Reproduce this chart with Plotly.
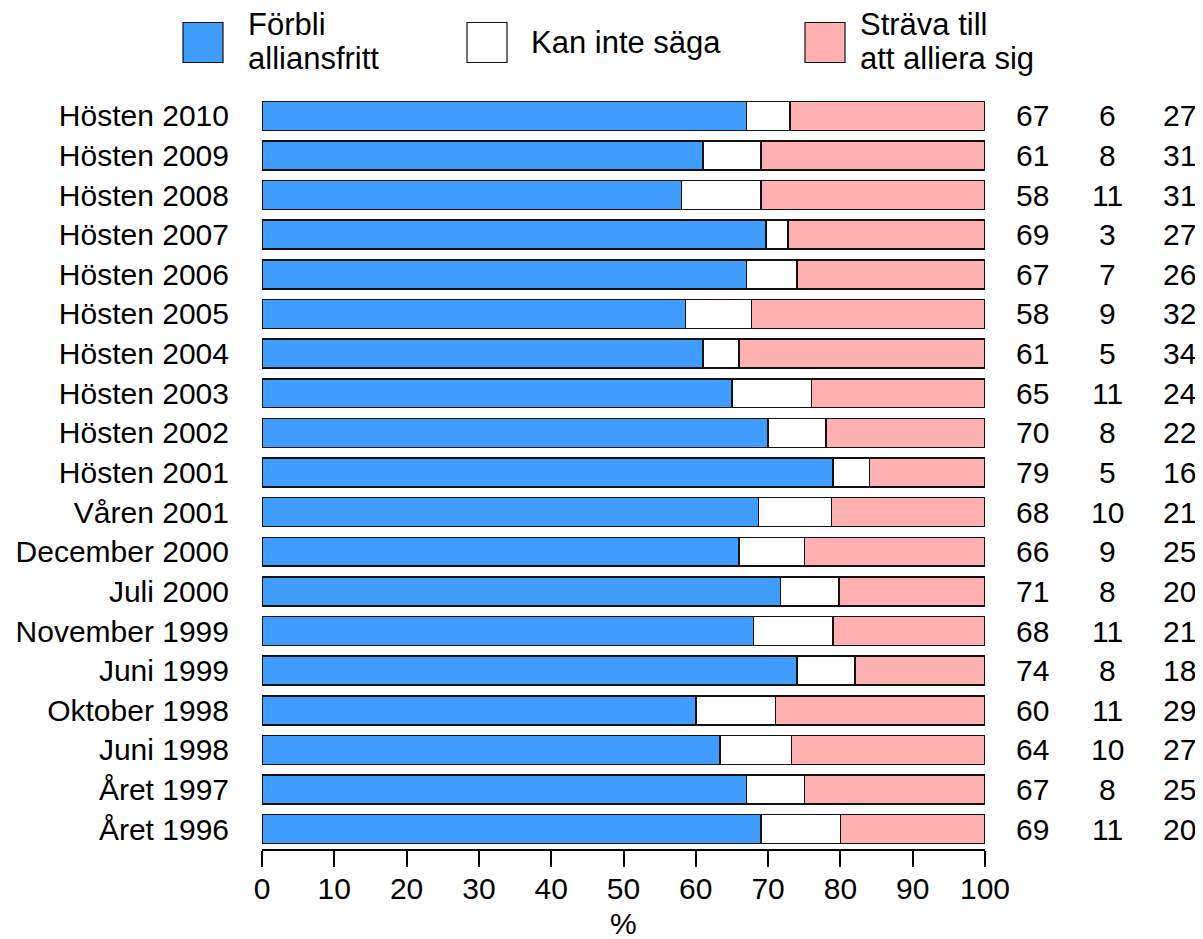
import plotly.graph_objects as go

categories = ["Hösten 2010", "Hösten 2009", "Hösten 2008", "Hösten 2007", "Hösten 2006",
              "Hösten 2005", "Hösten 2004", "Hösten 2003", "Hösten 2002", "Hösten 2001",
              "Våren 2001", "December 2000", "Juli 2000", "November 1999", "Juni 1999",
              "Oktober 1998", "Juni 1998", "Året 1997", "Året 1996"]
forbli = [67, 61, 58, 69, 67, 58, 61, 65, 70, 79, 68, 66, 71, 68, 74, 60, 64, 67, 69]
kan_inte = [6, 8, 11, 3, 7, 9, 5, 11, 8, 5, 10, 9, 8, 11, 8, 11, 10, 8, 11]
strava = [27, 31, 31, 27, 26, 32, 34, 24, 22, 16, 21, 25, 20, 21, 18, 29, 27, 25, 20]
series_names = ["Förbli alliansfritt", "Kan inte säga", "Sträva till att alliera sig"]
x_ticks = [0, 10, 20, 30, 40, 50, 60, 70, 80, 90, 100]
x_title = "%"

colors = ["#409cff", "#ffffff", "#ffb0b0"]
FONT = "Liberation Sans, Arial, sans-serif"

OFF = 8  # browser body margin
W, H = 1203 - OFF, 939 - OFF
ML, MR, MT, MB = 262 - OFF, 218, 96 - OFF, 90
PW = W - ML - MR
PH = H - MT - MB


def xp(px):
    return (px - OFF - ML) / PW


def yp(py):
    return (H - MB - (py - OFF)) / PH


totals = [a + b + c for a, b, c in zip(forbli, kan_inte, strava)]
fig = go.Figure()
for name, vals, col in zip(series_names, [forbli, kan_inte, strava], colors):
    fig.add_trace(go.Bar(
        y=categories,
        x=[v / t * 100 for v, t in zip(vals, totals)],
        orientation="h",
        name=name,
        width=0.73,
        marker=dict(color=col, line=dict(color="#111111", width=1.5)),
        showlegend=False,
    ))

annotations = []
col_px = [1032, 1107.5, 1179]
for vals, cx in zip([forbli, kan_inte, strava], col_px):
    for cat, v in zip(categories, vals):
        annotations.append(dict(
            x=xp(cx), y=cat, xref="paper", yref="y", text=str(v),
            showarrow=False, xanchor="center", yanchor="middle",
            font=dict(size=30, color="black", family=FONT),
        ))

# x-axis title
annotations.append(dict(
    x=0.5, y=yp(924), xref="paper", yref="paper", text=x_title,
    showarrow=False, xanchor="center", yanchor="middle",
    font=dict(size=30, color="black", family=FONT),
))

# manual legend
shapes = []
legend_boxes = [(183, 223), (467, 507), (805, 845)]
for (x0, x1), col in zip(legend_boxes, colors):
    shapes.append(dict(type="rect", xref="paper", yref="paper",
                       x0=xp(x0), x1=xp(x1), y0=yp(62.5), y1=yp(22.5),
                       fillcolor=col, line=dict(color="#111111", width=1.2)))

legend_texts = [
    ("Förbli", 246, 24), ("alliansfritt", 246, 58),
    ("Kan inte säga", 529, 42),
    ("Sträva till", 858, 24), ("att alliera sig", 858, 58),
]
for txt, lx, ly in legend_texts:
    annotations.append(dict(
        x=xp(lx), y=yp(ly), xref="paper", yref="paper", text=txt,
        showarrow=False, xanchor="left", yanchor="middle",
        font=dict(size=31, color="black", family=FONT),
    ))

fig.update_layout(
    width=W, height=H,
    margin=dict(l=ML, r=MR, t=MT, b=MB, pad=0, autoexpand=False),
    barmode="stack",
    plot_bgcolor="white",
    paper_bgcolor="white",
    font=dict(family=FONT, color="black", size=30),
    xaxis=dict(
        range=[0, 100], tickvals=x_ticks, ticktext=[str(t) for t in x_ticks],
        ticks="outside", ticklen=16, tickwidth=1.5, tickcolor="black",
        showline=True, linewidth=2, linecolor="black",
        showgrid=False, zeroline=False, automargin=False,
        tickfont=dict(size=30, family=FONT, color="black"),
        ticklabelstandoff=-4,
    ),
    yaxis=dict(
        type="category", autorange="reversed",
        showgrid=False, showline=False, zeroline=False, ticks="", automargin=False,
        tickfont=dict(size=30, family=FONT, color="black"),
        ticklabelstandoff=32,
    ),
    annotations=annotations,
    shapes=shapes,
)

fig.write_html("out.html")
